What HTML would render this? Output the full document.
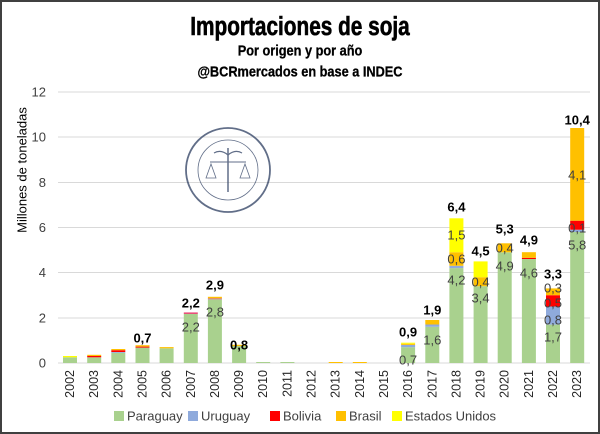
<!DOCTYPE html>
<html><head><meta charset="utf-8"><style>
html,body{margin:0;padding:0;background:#fff}
svg{display:block}
.t{font-family:"Liberation Sans",sans-serif}
.in{font-family:"Liberation Sans",sans-serif;font-size:13px;fill:#404040;text-anchor:middle;dominant-baseline:central}
.tot{font-family:"Liberation Sans",sans-serif;font-size:13px;font-weight:bold;fill:#000;text-anchor:middle;dominant-baseline:central}
.yr{font-family:"Liberation Sans",sans-serif;font-size:12.5px;fill:#262626;text-anchor:end;dominant-baseline:central}
.yt{font-family:"Liberation Sans",sans-serif;font-size:13px;fill:#404040;text-anchor:end;dominant-baseline:central}
.lg{font-family:"Liberation Sans",sans-serif;font-size:13px;fill:#404040;dominant-baseline:central}
</style></head><body>
<svg width="600" height="434" viewBox="0 0 600 434" xmlns="http://www.w3.org/2000/svg">
<rect x="1" y="1" width="598" height="432" fill="#fff" stroke="#404040" stroke-width="2"/>
<text class="t" x="300" y="26" text-anchor="middle" dominant-baseline="central" font-size="26" font-weight="bold" stroke="#000" stroke-width="0.6" transform="translate(300 0) scale(0.8 1) translate(-300 0)">Importaciones de soja</text>
<text class="t" x="300" y="50" text-anchor="middle" dominant-baseline="central" font-size="15" font-weight="bold" stroke="#000" stroke-width="0.3" transform="translate(300 0) scale(0.85 1) translate(-300 0)">Por origen y por año</text>
<text class="t" x="300" y="71" text-anchor="middle" dominant-baseline="central" font-size="15" font-weight="bold" stroke="#000" stroke-width="0.3" transform="translate(300 0) scale(0.85 1) translate(-300 0)">@BCRmercados en base a INDEC</text>
<g stroke="#d9d9d9" stroke-width="1">
<line x1="58" x2="590" y1="92" y2="92"/><line x1="58" x2="590" y1="137" y2="137"/>
<line x1="58" x2="590" y1="182.5" y2="182.5"/><line x1="58" x2="590" y1="227.5" y2="227.5"/>
<line x1="58" x2="590" y1="272.5" y2="272.5"/><line x1="58" x2="590" y1="318" y2="318"/>
<line x1="58" x2="590" y1="363" y2="363"/>
</g>
<g>
<text class="yt" x="46" y="92">12</text><text class="yt" x="46" y="137">10</text>
<text class="yt" x="46" y="182.5">8</text><text class="yt" x="46" y="227.5">6</text>
<text class="yt" x="46" y="272.5">4</text><text class="yt" x="46" y="318">2</text>
<text class="yt" x="46" y="363">0</text>
</g>
<text class="t" font-size="13" fill="#000" text-anchor="middle" dominant-baseline="central" transform="translate(22 170) rotate(-90)">Millones de toneladas</text>
<g fill="none" stroke="#3a4a6b" opacity="0.8">
<circle cx="228" cy="170" r="42" stroke-width="1.8"/>
<circle cx="228" cy="170" r="30" stroke-width="0.8"/>
<line x1="228" y1="148" x2="228" y2="192" stroke-width="1.5"/>
<line x1="210" y1="162" x2="246" y2="162" stroke-width="1"/>
<path d="M206 178 L211 164 L216 178 Z M240 178 L245 164 L250 178 Z" stroke-width="0.8"/>
<path d="M214 153 Q221 149 228 155 Q235 149 242 153" stroke-width="1.2"/>
</g>
<g>
<rect x="63" y="357.3" width="14" height="5.7" fill="#a9d18e"/><rect x="63" y="356" width="14" height="1.3" fill="#ffff00"/>
<rect x="87.2" y="357.3" width="14" height="5.7" fill="#a9d18e"/><rect x="87.2" y="356" width="14" height="1.3" fill="#ff0000"/><rect x="87.2" y="354.8" width="14" height="1.2" fill="#ffc000"/>
<rect x="111.3" y="352.8" width="14" height="10.2" fill="#a9d18e"/><rect x="111.3" y="352" width="14" height="0.8" fill="#8faadc"/><rect x="111.3" y="350.2" width="14" height="1.8" fill="#ff0000"/><rect x="111.3" y="349" width="14" height="1.2" fill="#ffc000"/>
<rect x="135.5" y="347.6" width="14" height="15.4" fill="#a9d18e"/><rect x="135.5" y="346.6" width="14" height="1" fill="#ff0000"/><rect x="135.5" y="345.2" width="14" height="1.4" fill="#ffc000"/>
<rect x="159.6" y="348.3" width="14" height="14.7" fill="#a9d18e"/><rect x="159.6" y="347.1" width="14" height="1.2" fill="#ffc000"/>
<rect x="183.8" y="314" width="14" height="49" fill="#a9d18e"/><rect x="183.8" y="312.4" width="14" height="1.6" fill="#e8507a"/>
<rect x="207.9" y="299.3" width="14" height="63.7" fill="#a9d18e"/><rect x="207.9" y="298.3" width="14" height="1" fill="#d06080"/><rect x="207.9" y="296.8" width="14" height="1.5" fill="#ffc000"/>
<rect x="232.1" y="346" width="14" height="17" fill="#a9d18e"/><rect x="232.1" y="344.8" width="14" height="1.2" fill="#ffc000"/>
<rect x="256.2" y="362" width="14" height="1" fill="#a9d18e"/><rect x="280.4" y="362" width="14" height="1" fill="#a9d18e"/>
<rect x="328.7" y="362" width="14" height="1" fill="#ffc000"/><rect x="352.8" y="362" width="14" height="1" fill="#ffc000"/>
<rect x="401.1" y="347.2" width="14" height="15.8" fill="#a9d18e"/><rect x="401.1" y="344.9" width="14" height="2.3" fill="#8faadc"/><rect x="401.1" y="343.7" width="14" height="1.2" fill="#ffc000"/><rect x="401.1" y="342.7" width="14" height="1" fill="#ffff00"/>
<rect x="425.3" y="326.8" width="14" height="36.2" fill="#a9d18e"/><rect x="425.3" y="324.5" width="14" height="2.3" fill="#8faadc"/><rect x="425.3" y="320" width="14" height="4.5" fill="#ffc000"/>
<rect x="449.4" y="268.1" width="14" height="94.9" fill="#a9d18e"/><rect x="449.4" y="265.8" width="14" height="2.3" fill="#8faadc"/><rect x="449.4" y="252.2" width="14" height="13.6" fill="#ffc000"/><rect x="449.4" y="218.3" width="14" height="33.9" fill="#ffff00"/>
<rect x="473.6" y="286.2" width="14" height="76.8" fill="#a9d18e"/><rect x="473.6" y="277.2" width="14" height="9" fill="#ffc000"/><rect x="473.6" y="261.4" width="14" height="15.8" fill="#ffff00"/>
<rect x="497.7" y="252.3" width="14" height="110.7" fill="#a9d18e"/><rect x="497.7" y="243.3" width="14" height="9" fill="#ffc000"/>
<rect x="521.9" y="259" width="14" height="104" fill="#a9d18e"/><rect x="521.9" y="257.8" width="14" height="1.2" fill="#ff0000"/><rect x="521.9" y="252.2" width="14" height="5.6" fill="#ffc000"/>
<rect x="546" y="324.6" width="14" height="38.4" fill="#a9d18e"/><rect x="546" y="306.5" width="14" height="18.1" fill="#8faadc"/><rect x="546" y="295.2" width="14" height="11.3" fill="#ff0000"/><rect x="546" y="288.4" width="14" height="6.8" fill="#ffc000"/>
<rect x="570.2" y="232" width="14" height="131" fill="#a9d18e"/><rect x="570.2" y="229.7" width="14" height="2.3" fill="#8faadc"/><rect x="570.2" y="220.7" width="14" height="9" fill="#ff0000"/><rect x="570.2" y="128" width="14" height="92.7" fill="#ffc000"/>
</g>
<g>
<text class="tot" x="142.5" y="338">0,7</text>
<text class="tot" x="190.8" y="303">2,2</text><text class="in" x="190.8" y="327">2,2</text>
<text class="tot" x="214.9" y="285">2,9</text><text class="in" x="214.9" y="312">2,8</text>
<text class="tot" x="239.1" y="345">0,8</text>
<text class="tot" x="408.1" y="332">0,9</text><text class="in" x="408.1" y="360">0,7</text>
<text class="tot" x="432.3" y="310">1,9</text><text class="in" x="432.3" y="340">1,6</text>
<text class="tot" x="456.4" y="207">6,4</text><text class="in" x="456.4" y="235">1,5</text><text class="in" x="456.4" y="259">0,6</text><text class="in" x="456.4" y="280">4,2</text>
<text class="tot" x="480.6" y="251">4,5</text><text class="in" x="480.6" y="282">0,4</text><text class="in" x="480.6" y="298">3,4</text>
<text class="tot" x="504.7" y="229">5,3</text><text class="in" x="504.7" y="248">0,4</text><text class="in" x="504.7" y="266">4,9</text>
<text class="tot" x="528.9" y="240">4,9</text><text class="in" x="528.9" y="273">4,6</text>
<text class="tot" x="553" y="274">3,3</text><text class="in" x="553" y="288">0,3</text><text class="in" x="553" y="303">0,5</text><text class="in" x="553" y="320">0,8</text><text class="in" x="553" y="337">1,7</text>
<text class="tot" x="577.2" y="120">10,4</text><text class="in" x="577.2" y="175">4,1</text><text class="in" x="577.2" y="228">0,1</text><text class="in" x="577.2" y="245">5,8</text>
</g>
<g>
<text class="yr" transform="translate(70 370) rotate(-90)">2002</text>
<text class="yr" transform="translate(94.2 370) rotate(-90)">2003</text>
<text class="yr" transform="translate(118.3 370) rotate(-90)">2004</text>
<text class="yr" transform="translate(142.5 370) rotate(-90)">2005</text>
<text class="yr" transform="translate(166.6 370) rotate(-90)">2006</text>
<text class="yr" transform="translate(190.8 370) rotate(-90)">2007</text>
<text class="yr" transform="translate(214.9 370) rotate(-90)">2008</text>
<text class="yr" transform="translate(239.1 370) rotate(-90)">2009</text>
<text class="yr" transform="translate(263.2 370) rotate(-90)">2010</text>
<text class="yr" transform="translate(287.4 370) rotate(-90)">2011</text>
<text class="yr" transform="translate(311.5 370) rotate(-90)">2012</text>
<text class="yr" transform="translate(335.7 370) rotate(-90)">2013</text>
<text class="yr" transform="translate(359.8 370) rotate(-90)">2014</text>
<text class="yr" transform="translate(384 370) rotate(-90)">2015</text>
<text class="yr" transform="translate(408.1 370) rotate(-90)">2016</text>
<text class="yr" transform="translate(432.3 370) rotate(-90)">2017</text>
<text class="yr" transform="translate(456.4 370) rotate(-90)">2018</text>
<text class="yr" transform="translate(480.6 370) rotate(-90)">2019</text>
<text class="yr" transform="translate(504.7 370) rotate(-90)">2020</text>
<text class="yr" transform="translate(528.9 370) rotate(-90)">2021</text>
<text class="yr" transform="translate(553 370) rotate(-90)">2022</text>
<text class="yr" transform="translate(577.2 370) rotate(-90)">2023</text>
</g>
<g>
<rect x="114" y="411" width="10" height="10" fill="#a9d18e"/><text class="lg" x="127" y="416">Paraguay</text>
<rect x="188" y="411" width="10" height="10" fill="#8faadc"/><text class="lg" x="201" y="416">Uruguay</text>
<rect x="270" y="411" width="10" height="10" fill="#ff0000"/><text class="lg" x="283" y="416">Bolivia</text>
<rect x="336" y="411" width="10" height="10" fill="#ffc000"/><text class="lg" x="349" y="416">Brasil</text>
<rect x="392" y="411" width="10" height="10" fill="#ffff00"/><text class="lg" x="405" y="416">Estados Unidos</text>
</g>
</svg>
</body></html>
